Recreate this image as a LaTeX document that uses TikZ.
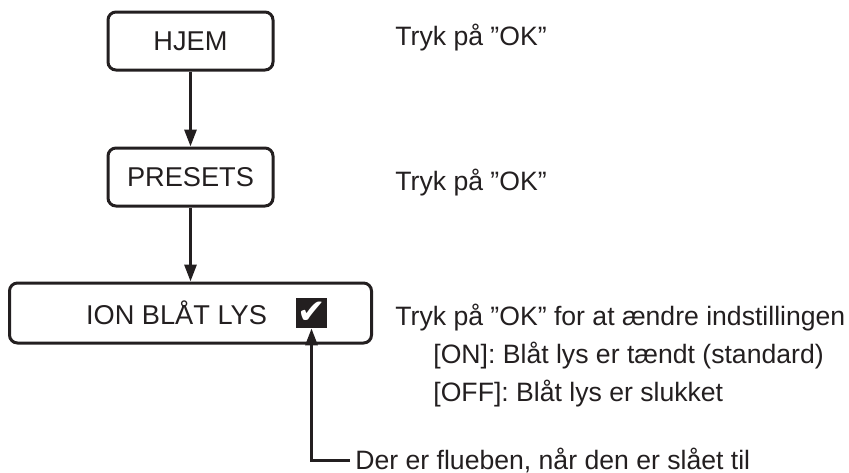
\documentclass[tikz,border=0pt]{standalone}
\usepackage{fontspec}
\setmainfont{Liberation Sans}
\newfontfamily\symfont{DejaVu Sans}
\usetikzlibrary{arrows.meta}
\definecolor{ink}{HTML}{231F20}
\tikzset{
  menubox/.style={draw=ink, line width=1.5pt, rectangle, rounded corners=4pt,
    minimum width=82.5pt, minimum height=29pt, inner sep=0pt, text=ink,
    font=\fontsize{13.6}{16}\selectfont},
  hint/.style={anchor=base west, inner sep=0pt, text=ink,
    font=\fontsize{13.3}{16}\selectfont},
  flow/.style={draw=ink, line width=1.5pt, -{Triangle[length=8.5pt, width=6pt]}}
}
\begin{document}
\begin{tikzpicture}[x=0.5pt, y=-0.5pt, node distance=68pt]
    \useasboundingbox (0,0) rectangle (849,472);
    \node[menubox] (hjem) at (190.5,41) {HJEM};
    \node[menubox, below of=hjem] (presets) {PRESETS};
    \node[menubox, below of=presets, minimum width=181pt, minimum height=30pt] (ion) {ION BLÅT LYS\hspace*{14pt}};
    \node[fill=ink, minimum width=15.5pt, minimum height=15pt, inner sep=0pt, text=white,
      font=\symfont\fontsize{17}{17}\selectfont] (check) at (311.5,313) {✔};

    \node[hint] (hint1) at (395,45) {Tryk på ”OK”};
    \node[hint] (hint2) at (395,190) {Tryk på ”OK”};
    \node[hint] (hint3) at (395,325) {Tryk på ”OK” for at ændre indstillingen};
    \node[hint] (on) at (433,363) {[ON]: Blåt lys er tændt (standard)};
    \node[hint] (off) at (433,401) {[OFF]: Blåt lys er slukket};
    \node[anchor=west, inner sep=2.5pt, text=ink, font=\fontsize{13.3}{16}\selectfont] (note) at (350,460) {Der er flueben, når den er slået til};

    \draw[flow] (hjem) -- (presets);
    \draw[flow] (presets) -- (ion);
    \draw[flow] (note.west) -| (check.south);
\end{tikzpicture}
\end{document}
